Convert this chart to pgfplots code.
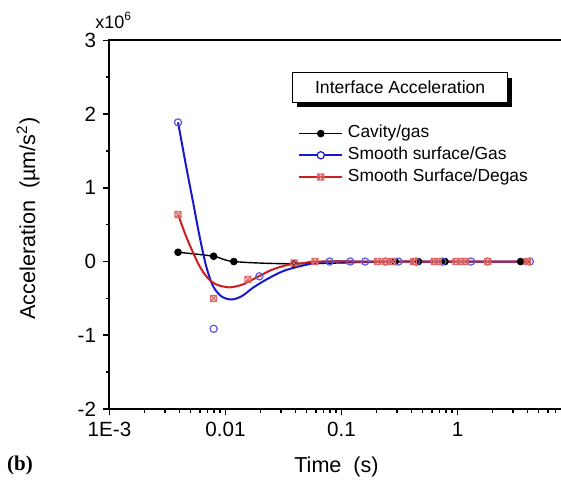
\documentclass[border=0pt]{standalone}
\usepackage{pgfplots}
\pgfplotsset{compat=1.18}
\usepackage{fontspec}
\setmainfont{Liberation Sans}
\newfontfamily\serifb{Liberation Serif}
\usetikzlibrary{shadows}
\definecolor{bline}{RGB}{25,25,205}
\definecolor{bmark}{RGB}{90,90,215}
\definecolor{rline}{RGB}{205,30,30}
\definecolor{rmark}{RGB}{220,105,105}
\pgfdeclareplotmark{boxx}{%
  \pgfpathrectangle{\pgfpoint{-\pgfplotmarksize}{-\pgfplotmarksize}}{\pgfpoint{2\pgfplotmarksize}{2\pgfplotmarksize}}%
  \pgfpathmoveto{\pgfpoint{-\pgfplotmarksize}{-\pgfplotmarksize}}\pgfpathlineto{\pgfpoint{\pgfplotmarksize}{\pgfplotmarksize}}%
  \pgfpathmoveto{\pgfpoint{-\pgfplotmarksize}{\pgfplotmarksize}}\pgfpathlineto{\pgfpoint{\pgfplotmarksize}{-\pgfplotmarksize}}%
  \pgfusepathqstroke}
\begin{document}
\begin{tikzpicture}
\path[use as bounding box] (-54.75pt,-35.5pt) rectangle (225.75pt,204.5pt);
\begin{axis}[
  at={(0pt,0pt)}, anchor=south west,
  scale only axis, width=232pt, height=184.3pt,
  xmode=log, xmin=1e-3, xmax=10, ymin=-2, ymax=3,
  xtick={0.001,0.01,0.1,1,10}, xticklabels={1E-3,0.01,0.1,1,{}},
  minor xtick={0.002,0.003,0.004,0.005,0.006,0.007,0.008,0.009,0.02,0.03,0.04,0.05,0.06,0.07,0.08,0.09,0.2,0.3,0.4,0.5,0.6,0.7,0.8,0.9,2,3,4,5,6,7,8,9},
  ytick={-2,-1,0,1,2,3}, yticklabels={-2,-1,0,1,2,3},
  minor ytick={-1.5,-0.5,0.5,1.5,2.5},
  tick pos=left, tick align=outside,
  major tick length=3.2pt, minor tick length=1.8pt,
  every tick/.style={black, line width=0.8pt},
  axis line style={line width=1pt},
  ticklabel style={font=\fontsize{10.3}{12}\selectfont},
  legend style={draw=none, fill=none, at={(0.406,0.776)}, anchor=north west,
    inner xsep=0pt, inner ysep=0pt, row sep=0.65pt, column sep=1.35pt,
    font=\fontsize{8.7}{10}\selectfont,
    nodes={inner sep=1pt, text height=6.3pt, text depth=1.9pt}},
  legend cell align=left,
]
% black curve
\addplot[black, line width=0.7pt, smooth, forget plot] coordinates {
 (0.0039,0.126) (0.0079,0.072) (0.0118,0.0) (0.0394,-0.03) (0.29,0) (0.46,0) (0.78,0) (3.5,0)};
\addplot[only marks, mark=*, mark size=1.7pt, black,
  legend image code/.code={\draw[black, line width=0.7pt] (0pt,0pt) -- (21.5pt,0pt); \draw[black] plot[only marks, mark=*, mark size=1.7pt] coordinates {(10.75pt,0pt)};}]
 coordinates {(0.0039,0.126) (0.0079,0.072) (0.0118,0.0) (0.0394,-0.03) (0.29,0) (0.46,0) (0.78,0) (3.5,0)};
\addlegendentry{Cavity/gas}
\addplot[only marks, mark=o, mark size=1.8pt, bmark, mark options={line width=0.6pt},
  legend image code/.code={\draw[bline, line width=1pt] (0pt,0pt) -- (21.5pt,0pt); \draw[bline, line width=0.6pt] plot[only marks, mark=*, mark size=1.8pt, mark options={fill=white}] coordinates {(10.75pt,0pt)};}]
 coordinates {(0.0039,1.888) (0.0079,-0.912) (0.0196,-0.2) (0.079,0) (0.119,0) (0.16,0) (0.24,0) (0.31,0) (0.44,0) (0.74,0) (1.31,0) (1.82,0) (4.2,0)};
\addlegendentry{Smooth surface/Gas}
\addplot[only marks, mark=boxx, mark size=1.5pt, rmark, mark options={line width=0.6pt},
  legend image code/.code={\draw[rline, line width=1pt] (0pt,0pt) -- (21.5pt,0pt); \draw[rmark, line width=0.6pt] plot[only marks, mark=boxx, mark size=1.5pt] coordinates {(10.75pt,0pt)};}]
 coordinates {(0.0039,0.637) (0.0079,-0.50) (0.0156,-0.244) (0.039,-0.02) (0.059,0) (0.205,0) (0.24,0) (0.275,0) (0.42,0) (0.63,0) (0.68,0) (0.97,0) (1.07,0) (1.16,0) (1.82,0) (4.0,0)};
\addlegendentry{Smooth Surface/Degas}
% blue curve
\addplot[bline, line width=1pt, smooth, forget plot] coordinates {
 (0.0039,1.888) (0.00458,1.29) (0.00527,0.795) (0.00598,0.34) (0.00682,-0.064) (0.00779,-0.33) (0.00918,-0.47) (0.0112,-0.515) (0.0138,-0.47) (0.0172,-0.357) (0.0225,-0.244) (0.0312,-0.131) (0.0435,-0.064) (0.0605,-0.018) (0.0788,0) (0.2,0) (1,0) (4.2,0)};
% red curve
\addplot[rline, line width=1pt, smooth, forget plot] coordinates {
 (0.0039,0.637) (0.00458,0.34) (0.00527,0.117) (0.00598,-0.064) (0.0070,-0.22) (0.0083,-0.31) (0.0108,-0.35) (0.0141,-0.31) (0.0183,-0.22) (0.0253,-0.11) (0.0356,-0.04) (0.049,-0.018) (0.0605,0) (0.2,0) (1,0) (4.0,0)};
\end{axis}
\node[anchor=west, inner sep=0pt, font=\fontsize{9}{10}\selectfont] at (-7.25pt,194.2pt) {x10\textsuperscript{6}};
\node[rotate=90, inner sep=0pt, font=\fontsize{10.8}{12}\selectfont] at (-40.75pt,95.15pt) {Acceleration\ \ (µm/s\textsuperscript{2})};
\node[inner sep=0pt, font=\fontsize{10.8}{12}\selectfont] at (113.5pt,-28.9pt) {Time\ \ (s)};
\node[inner sep=0pt, font=\serifb\bfseries\fontsize{10.5}{12}\selectfont] at (-44.75pt,-28.4pt) {(b)};
\node[draw, fill=white, line width=0.5pt, minimum width=107.5pt, minimum height=14.7pt, inner sep=0pt,
  font=\fontsize{8.8}{10}\selectfont,
  drop shadow={shadow xshift=2.3pt, shadow yshift=-2.3pt, fill=black, opacity=1}] at (145.35pt,160.65pt) {Interface Acceleration};
\end{tikzpicture}
\end{document}
